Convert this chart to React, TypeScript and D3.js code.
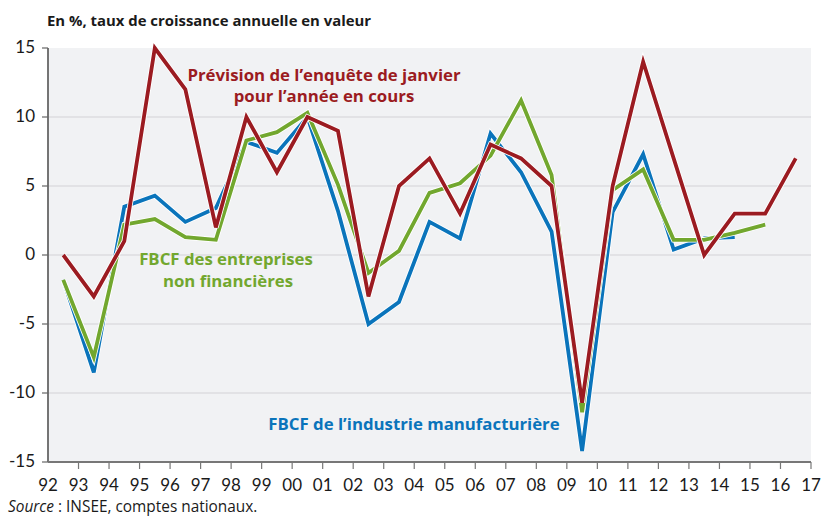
import React from "react";
import * as d3 from "d3";

const years = [1992,1993,1994,1995,1996,1997,1998,1999,2000,2001,2002,2003,2004,2005,2006,2007,2008,2009,2010,2011,2012,2013,2014,2015,2016];
const prevision = [0,-3,1,15,12,2,10,6,10,9,-3,5,7,3,8,7,5,-10.7,5,14,7,0,3,3,7];
const fbcfEntreprises = [-1.8,-7.4,2.2,2.6,1.3,1.1,8.3,8.9,10.3,5.1,-1.3,0.3,4.5,5.2,7.2,11.2,5.8,-11.4,4.7,6.2,1.1,1.1,1.6,2.2];
const fbcfIndustrie = [-1.8,-8.5,3.5,4.3,2.4,3.4,8.2,7.4,10.0,3.2,-5.0,-3.4,2.4,1.2,8.8,6.0,1.7,-14.2,3.1,7.3,0.4,1.2,1.3];
const xTickLabels = ["92","93","94","95","96","97","98","99","00","01","02","03","04","05","06","07","08","09","10","11","12","13","14","15","16","17"];
const yTicks = [-15,-10,-5,0,5,10,15];

const FONT = "Lato, 'Liberation Sans', sans-serif";
const TEXT_FONT = "'Open Sans', 'Noto Sans', sans-serif";

export default function App() {
  const left = 48, right = 811, top = 48, bottom = 462;
  const x = d3.scaleLinear().domain([1992, 2017]).range([left, right]);
  const y = d3.scaleLinear().domain([-15, 15]).range([bottom, top]);
  const line = d3.line<number>().x((_, i) => x(years[i] + 0.5)).y((d) => y(d));

  const series = [
    { values: fbcfIndustrie, color: "#0a74bb" },
    { values: fbcfEntreprises, color: "#72a72e" },
    { values: prevision, color: "#9b1b21" },
  ];

  return (
    <svg width={825} height={518} style={{ position: "absolute", left: 0, top: 0, background: "#fff" }} fontFamily={FONT}>
      <text x={47} y={26} fontSize={14.9} fontWeight="bold" fill="#1a1a1a" fontFamily={TEXT_FONT}>En %, taux de croissance annuelle en valeur</text>
      <rect x={left} y={top} width={right - left} height={bottom - top} fill="#f1f2f4" />
      {yTicks.filter((t) => t !== -15 && t !== 15).map((t) => (
        <line key={"g" + t} x1={left} x2={right} y1={y(t)} y2={y(t)} stroke="#dcdde1" strokeWidth={1.5} />
      ))}
      {yTicks.map((t) => (
        <g key={"yt" + t}>
          <line x1={left - 6} x2={left} y1={y(t)} y2={y(t)} stroke="#666" strokeWidth={1.2} />
          <text x={35} y={y(t)} dy="0.32em" textAnchor="end" fontSize={17} fill="#1a1a1a">{t}</text>
        </g>
      ))}
      <line x1={left} x2={left} y1={top} y2={bottom} stroke="#666" strokeWidth={1.8} />
      <line x1={left} x2={right} y1={bottom} y2={bottom} stroke="#777" strokeWidth={1.8} />
      {xTickLabels.map((lab, i) => (
        <g key={"xt" + lab}>
          {i > 0 && <line x1={x(1992 + i)} x2={x(1992 + i)} y1={bottom} y2={bottom + 7} stroke="#777" strokeWidth={1.2} />}
          <text x={x(1992 + i)} y={491} textAnchor="middle" fontSize={17} fill="#1a1a1a">{lab}</text>
        </g>
      ))}
      {series.map((s, i) => (
        <g key={"s" + i}>
          <path d={line(s.values) || ""} fill="none" stroke="#fff" strokeWidth={5.5} strokeLinejoin="miter" />
          <path d={line(s.values) || ""} fill="none" stroke={s.color} strokeWidth={3.8} strokeLinejoin="miter" />
        </g>
      ))}
      <g fontWeight="bold" fontSize={16.8} textAnchor="middle" fontFamily={TEXT_FONT}>
        <text x={324} y={81} fill="#9b1b21">Prévision de l’enquête de janvier</text>
        <text x={324} y={102} fill="#9b1b21">pour l’année en cours</text>
        <text x={226} y={265} fill="#72a72e">FBCF des entreprises</text>
        <text x={228} y={287} fill="#72a72e">non financières</text>
        <text x={414} y={430} fill="#0a74bb">FBCF de l’industrie manufacturière</text>
      </g>
      <text x={8} y={512} fontSize={15.4} fill="#1a1a1a" fontFamily={TEXT_FONT}><tspan fontStyle="italic">Source</tspan> : INSEE, comptes nationaux.</text>
    </svg>
  );
}
